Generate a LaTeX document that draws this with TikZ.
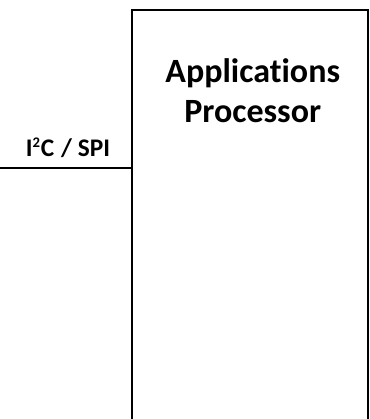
\documentclass[tikz,border=0pt]{standalone}
\usepackage{fontspec}
\setmainfont{Carlito}[Ligatures=CommonOff]
\usepackage{tikz}
\usetikzlibrary{positioning}

\begin{document}
\begin{tikzpicture}[
  x=0.75pt, y=-0.75pt,
  procbox/.style={draw, line width=1.6pt, minimum width=177pt, minimum height=330pt, inner sep=0pt, anchor=north west},
  title/.style={font=\fontsize{25.5}{30}\selectfont\bfseries, align=center, inner sep=0pt},
  buslabel/.style={font=\fontsize{19}{21}\selectfont\bfseries, inner sep=0pt, anchor=base},
  bus/.style={line width=1.4pt}
]
  \useasboundingbox (0,0) rectangle (369,419);
  \clip (0,0) rectangle (369,419);

  \node[procbox] (ap) at (131,9) {};
  \node[title, below=0.0pt of ap.north, yshift=-37pt, xshift=2pt] (aptext) {Applications\\Processor};

  \coordinate (busend) at (0,168);
  \draw[bus] (busend) -- (busend -| ap.west);
  \node[buslabel] (buslbl) at (68,156) {I\textsuperscript{\fontsize{11}{11}\selectfont 2}C\hspace{0.05em} / SPI};
\end{tikzpicture}
\end{document}
